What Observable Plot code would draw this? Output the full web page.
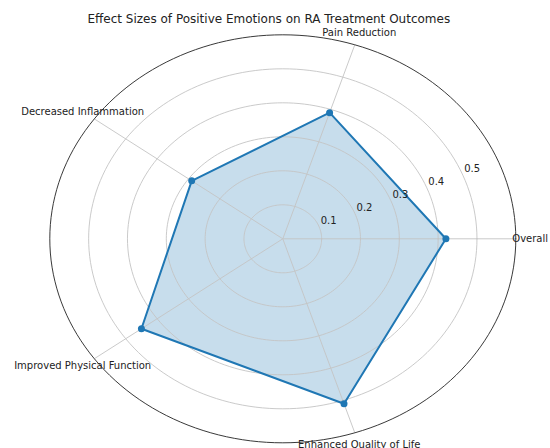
<!DOCTYPE html>
<html>
<head>
<meta charset="utf-8">
<script src="https://cdn.jsdelivr.net/npm/d3@7"></script>
<script src="https://cdn.jsdelivr.net/npm/@observablehq/plot@0.6"></script>
<style>
  body { margin: 0; background: #fff; }
  svg { display: block; }
</style>
</head>
<body>
<div id="chart"></div>
<script>
const title = "Effect Sizes of Positive Emotions on RA Treatment Outcomes";
const categories = ["Overall", "Pain Reduction", "Decreased Inflammation", "Improved Physical Function", "Enhanced Quality of Life"];
const values = [0.42, 0.39, 0.29, 0.45, 0.51];
const rTicks = [0.1, 0.2, 0.3, 0.4, 0.5];
const rMax = 0.6;

const n = categories.length;
const angle = i => i * 2 * Math.PI / n;

// polygon (closed)
const poly = categories.map((c, i) => ({c, v: values[i], a: angle(i)}));
const polyClosed = [...poly, poly[0]].map(d => ({...d, x: d.v * Math.cos(d.a), y: d.v * Math.sin(d.a)}));

// grid circles
const circ = d3.range(0, 361, 2).map(t => t * Math.PI / 180);
const rings = rTicks.flatMap(r => circ.map(t => ({r, x: r * Math.cos(t), y: r * Math.sin(t)})));
const outer = circ.map(t => ({x: rMax * Math.cos(t), y: rMax * Math.sin(t)}));

const spokes = categories.map((c, i) => ({c, x2: rMax * Math.cos(angle(i)), y2: rMax * Math.sin(angle(i))}));
const labelR = rMax + 0.037;
const labels = categories.map((c, i) => ({c, x: labelR * Math.cos(angle(i)), y: labelR * Math.sin(angle(i))}));
const rlabAngle = 22.5 * Math.PI / 180;
const rlabels = rTicks.map(r => ({t: String(r), x: r * Math.cos(rlabAngle), y: r * Math.sin(rlabAngle)}));

const font = "DejaVu Sans, sans-serif";

const plot = Plot.plot({
  width: 550,
  height: 448,
  marginLeft: 49.3,
  marginRight: 34.7,
  marginTop: 34.3,
  marginBottom: 5.7,
  x: {domain: [-rMax, rMax], axis: null},
  y: {domain: [-rMax, rMax], axis: null},
  style: {fontFamily: font, background: "#fff"},
  marks: [
    Plot.line(polyClosed, {x: "x", y: "y", fill: "#1f77b4", fillOpacity: 0.25, stroke: "none"}),
    Plot.line(rings, {x: "x", y: "y", z: "r", stroke: "#c4c4c4", strokeWidth: 0.9}),
    Plot.link(spokes, {x1: 0, y1: 0, x2: "x2", y2: "y2", stroke: "#c4c4c4", strokeWidth: 0.9}),
    Plot.line(outer, {x: "x", y: "y", stroke: "#222", strokeWidth: 0.9}),
    Plot.line(polyClosed, {x: "x", y: "y", stroke: "#1f77b4", strokeWidth: 2, curve: "linear"}),
    Plot.dot(poly, {x: d => d.v * Math.cos(d.a), y: d => d.v * Math.sin(d.a), r: 3.5, fill: "#1f77b4", stroke: "none"}),
    Plot.text(rlabels, {x: "x", y: "y", text: "t", textAnchor: "start", dx: 2, dy: -5, fontSize: 10, fill: "#222"}),
    Plot.text(labels, {x: "x", y: "y", text: "c", textAnchor: "middle", fontSize: 10, fill: "#222"}),
    Plot.text([title], {frameAnchor: "top", dx: -14, dy: -20, text: d => d, fontSize: 12, fill: "#222"})
  ]
});
document.getElementById("chart").appendChild(plot);
</script>
</body>
</html>
